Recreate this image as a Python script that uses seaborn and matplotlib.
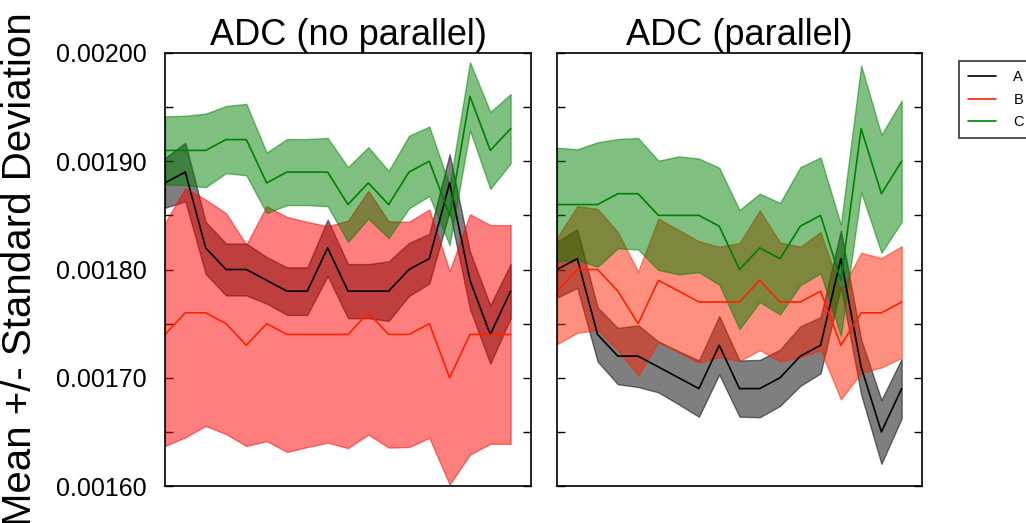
import numpy as np
import pandas as pd
import seaborn as sns
import matplotlib
matplotlib.use('Agg')
import matplotlib.pyplot as plt

# values in units of 1e-5
scale = 1e-5
groups = ['A', 'B', 'C']
panels = ['ADC (no parallel)', 'ADC (parallel)']

a_mean_np = [188, 189, 182, 180, 180, 179, 178, 178, 182, 178, 178, 178, 180, 181, 188, 179, 174, 178]
a_std_np = [2.3, 2.7, 2.4, 2.4, 2.4, 2.15, 2.2, 2.2, 2.6, 2.5, 2.5, 2.75, 2.45, 2.3, 2.65, 2.65, 2.7, 2.5]
b_mean_np = [174, 176, 176, 175, 173, 175, 174, 174, 174, 174, 176, 174, 174, 175, 170, 174, 174, 174]
b_std_np = [10.3, 11.5, 10.45, 10.2, 9.3, 10.85, 10.85, 10.4, 10.0, 10.5, 11.25, 10.45, 10.4, 10.55, 9.85, 11.1, 10.1, 10.1]
c_mean_np = [191, 191, 191, 192, 192, 188, 189, 189, 189, 186, 188, 186, 189, 190, 185, 196, 191, 193]
c_std_np = [3.15, 3.2, 3.4, 3.1, 3.3, 2.8, 3.05, 3.05, 3.15, 3.45, 3.3, 3.1, 3.35, 3.2, 2.75, 3.15, 3.55, 3.2]

a_mean_p = [180, 181, 174, 172, 172, 171, 170, 169, 173, 169, 169, 170, 172, 173, 181, 171, 165, 169]
a_std_p = [2.6, 2.7, 2.5, 2.6, 2.85, 2.35, 2.45, 2.6, 2.7, 2.6, 2.65, 2.6, 2.75, 2.6, 2.6, 2.55, 2.95, 2.75]
b_mean_p = [178, 180, 180, 178, 175, 179, 178, 177, 177, 177, 179, 177, 177, 178, 173, 176, 176, 177]
b_std_p = [4.9, 5.85, 5.6, 5.45, 4.8, 5.7, 5.65, 5.6, 5.1, 5.45, 6.45, 5.5, 5.1, 5.45, 5.0, 5.55, 5.05, 5.15]
c_mean_p = [186, 186, 186, 187, 187, 185, 185, 185, 184, 180, 182, 181, 184, 185, 179, 193, 187, 190]
c_std_p = [5.25, 5.1, 5.75, 5.05, 5.15, 5.05, 5.45, 5.25, 5.4, 5.5, 5.0, 5.15, 5.45, 5.35, 5.15, 5.85, 5.45, 5.6]

means = {panels[0]: [a_mean_np, b_mean_np, c_mean_np], panels[1]: [a_mean_p, b_mean_p, c_mean_p]}
stds = {panels[0]: [a_std_np, b_std_np, c_std_np], panels[1]: [a_std_p, b_std_p, c_std_p]}

line_colors = {'A': 'black', 'B': '#ff2200', 'C': 'green'}
fill_colors = {panels[0]: {'A': 'black', 'B': 'red', 'C': 'green'},
               panels[1]: {'A': 'black', 'B': '#ff2200', 'C': 'green'}}

rows = []
for p in panels:
    for g, m, s in zip(groups, means[p], stds[p]):
        for i, (mv, sv) in enumerate(zip(m, s)):
            rows.append({'panel': p, 'group': g, 'x': i,
                         'mean': mv * scale, 'std': sv * scale})
df = pd.DataFrame(rows)

sns.set_style('white')
plt.rcParams['font.family'] = ['Liberation Sans', 'DejaVu Sans']
plt.rcParams['text.color'] = 'black'
plt.rcParams['axes.labelcolor'] = 'black'
plt.rcParams['ytick.color'] = 'black'

fig = plt.figure(figsize=(10.26, 5.23), dpi=100)
ax1 = fig.add_axes([0.1608, 0.0707, 0.3567, 0.828])
ax2 = fig.add_axes([0.5429, 0.0707, 0.3557, 0.828], sharey=ax1)

for ax, p in zip([ax1, ax2], panels):
    sub = df[df['panel'] == p]
    for g in groups:
        d = sub[sub['group'] == g]
        ax.fill_between(d['x'], d['mean'] - d['std'], d['mean'] + d['std'],
                        color=fill_colors[p][g], alpha=0.5, linewidth=1)
    sns.lineplot(data=sub, x='x', y='mean', hue='group', palette=line_colors,
                 linewidth=1.2, ax=ax, legend=False)
    ax.set_title(p, fontsize=26, pad=6, color='black')
    ax.set_xlim(0, 18)
    ax.set_xticks([])
    ax.set_xlabel('')
    ax.set_ylabel('')
    for sp in ax.spines.values():
        sp.set_color('black')
        sp.set_linewidth(1.2)
    ax.tick_params(axis='y', direction='in', length=6, width=1, color='black',
                   labelcolor='black', left=True, right=True, labelsize=18, pad=13)

ax1.set_ylim(0.0016, 0.0020)
ax1.set_yticks(np.arange(0.0016, 0.00201, 0.00005))
ax1.set_yticklabels(['%.5f' % v if i % 2 == 0 else '' for i, v in
                     enumerate(np.arange(0.0016, 0.00201, 0.00005))])
ax2.tick_params(axis='y', labelleft=False)
ax1.set_ylabel('Mean +/- Standard Deviation', fontsize=29, color='black')
ax1.yaxis.set_label_coords(-0.345, 0.5)

handles = [plt.Line2D([], [], color=line_colors[g], linewidth=1.2) for g in groups]
leg = fig.legend(handles, groups, loc='upper left', bbox_to_anchor=(0.928, 0.897),
                 fontsize=10.5, frameon=True, fancybox=False, handlelength=1.9,
                 handletextpad=1.2, borderpad=0.6, labelspacing=0.6)
leg.get_frame().set_edgecolor('black')
leg.get_frame().set_linewidth(1.2)

fig.savefig('out.png', dpi=100)
